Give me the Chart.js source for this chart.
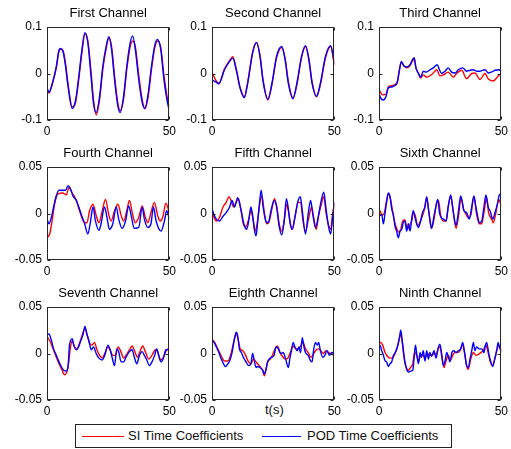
<!DOCTYPE html>
<html>
<head>
<meta charset="utf-8">
<script src="https://cdn.jsdelivr.net/npm/chart.js@4.4.1/dist/chart.umd.min.js"></script>
<style>
  body { margin: 0; background: #fff; }
  #wrap { position: relative; width: 511px; height: 449px; background: #fff; overflow: hidden;
          font-family: "Liberation Sans", Arial, sans-serif; color: #111; }
  #wrap canvas { position: absolute; }
  #tlabel { position: absolute; left: 265px; top: 402px; font-size: 13px; line-height: 15px; }
  #legend { position: absolute; left: 75px; top: 424px; width: 377px; height: 24px; box-sizing: border-box;
            border: 1px solid #222; font-size: 13px; }
  #legend .ln { position: absolute; top: 11px; height: 0; border-top: 1px solid; }
  #legend .tx { position: absolute; top: 3px; line-height: 16px; white-space: nowrap; }
</style>
</head>
<body>
<div id="wrap">
  <div id="tlabel">t(s)</div>
  <div id="legend">
    <span class="ln" style="left:6px;width:42px;border-color:#ff0000"></span>
    <span class="tx" style="left:52px">SI Time Coefficients</span>
    <span class="ln" style="left:186px;width:39px;border-color:#0000ff"></span>
    <span class="tx" style="left:231px">POD Time Coefficients</span>
  </div>
</div>
<script>
// ---- data (t in seconds) ----
const TITLES = ['First Channel', 'Second Channel', 'Third Channel', 'Fourth Channel', 'Fifth Channel',
  'Sixth Channel', 'Seventh Channel', 'Eighth Channel', 'Ninth Channel'];
const X_TICKS = [0, 50];
const Y_TICKS_BIG = [-0.1, 0, 0.1];
const Y_TICKS_SMALL = [-0.05, 0, 0.05];

// first channel
const ch1T = [0,0.8,2.4,3.8,4.8,5.4,6.5,7.5,8.6,10.3,11.7,13,14.3,15.5,16.7,18,19,20.1,21.5,22.8,24.2,25.3,26.4,27.6,28.9,29.9,31.3,32.6,34,35,36.1,37.5,38.9,40,41.3,42.7,44,45.1,46.5,47.8,49.7,50];
const ch1Pod = [-0.030,-0.040,-0.017,0.015,0.048,0.054,0.048,0.019,-0.028,-0.075,-0.057,-0.006,0.052,0.088,0.066,-0.006,-0.064,-0.084,-0.049,0.015,0.059,0.079,0.052,-0.013,-0.068,-0.084,-0.049,0.015,0.066,0.081,0.052,-0.013,-0.062,-0.075,-0.045,0.015,0.059,0.073,0.052,-0.013,-0.073,-0.075];
const ch1Si = [-0.035,-0.042,-0.018,0.012,0.045,0.052,0.050,0.024,-0.022,-0.072,-0.062,-0.012,0.046,0.086,0.070,0.004,-0.056,-0.089,-0.056,0.008,0.054,0.076,0.058,-0.004,-0.062,-0.080,-0.055,0.008,0.058,0.070,0.058,-0.004,-0.056,-0.076,-0.052,0.008,0.054,0.070,0.056,-0.004,-0.066,-0.070];

// second channel
const ch2PodT = [0,1.5,2.8,5.1,7.2,8.5,9.9,11.5,13.2,14.6,16.6,18.2,19.6,20.9,22.8,24.5,26.4,28.5,29.9,31.2,33.1,34.7,36.6,38.2,39.6,40.9,42.7,44.3,46.4,48.5,50];
const ch2Pod = [-0.014,-0.018,-0.022,0.008,0.026,0.033,0.008,-0.032,-0.052,-0.021,0.044,0.067,0.037,-0.018,-0.055,-0.021,0.037,0.058,0.029,-0.021,-0.054,-0.021,0.037,0.060,0.029,-0.021,-0.049,-0.021,0.037,0.060,0.022];
const ch2SiT = [0,0.6,1.5,2.8,5.1,7.2,8.5,9.9,11.5,13.2,14.6,16.6,18.2,19.6,20.9,22.8,24.5,26.4,28.5,29.9,31.2,33.1,34.7,36.6,38.2,39.6,40.9,42.7,44.3,46.4,48.5,50];
const ch2Si = [0.002,-0.004,-0.014,-0.021,0.010,0.028,0.036,0.010,-0.030,-0.050,-0.018,0.046,0.066,0.040,-0.014,-0.057,-0.024,0.034,0.056,0.032,-0.017,-0.052,-0.024,0.034,0.058,0.032,-0.017,-0.050,-0.024,0.034,0.058,0.018];

// third channel
const ch3PodT = [0,0.7,1.8,2.9,3.8,5.2,6.5,7.5,8.3,9.1,10.2,11.3,12.7,13.8,14.4,15.1,16.1,17,18.1,19.2,20.6,22.2,23.8,24.7,25.6,27,28.3,29.7,31.1,32.4,34.2,35.8,37.2,38.6,39.9,41.3,43.3,44.7,46,47.4,48.8,50];
const ch3Pod = [-0.042,-0.053,-0.057,-0.049,-0.031,-0.029,-0.026,-0.019,0.005,0.026,0.016,0.014,0.019,0.031,0.034,0.012,0.001,-0.008,0.005,0.003,0.007,0.012,0.019,0.008,0.000,0.005,0.012,0.003,0.001,0.008,0.012,0.005,0.007,0.008,0.005,0.005,0.008,0.001,0.003,0.007,0.008,0.005];
const ch3SiT = [0,1.5,2.9,3.8,5.2,6.5,7.5,8.3,9.1,10.2,11.3,12.7,13.8,14.4,15.1,16.1,17,18.1,19.5,22,23.6,24.9,26.3,28.3,30.4,31.7,33.8,35.8,37.9,39.2,41.3,43.3,44.7,46.7,48.8,50];
const ch3Si = [-0.035,-0.046,-0.044,-0.029,-0.026,-0.024,-0.017,0.007,0.024,0.016,0.012,0.017,0.028,0.030,0.012,0.000,-0.010,-0.003,-0.008,0.000,0.008,-0.005,-0.003,0.003,-0.008,0.000,0.007,-0.011,0.000,0.001,-0.013,0.000,-0.012,-0.016,-0.005,0.000];

// fourth channel
const ch4PodT = [0,0.8,1.8,2.7,3.8,4.9,6.5,7.6,8.6,9.5,10.6,12,13,14,15.4,16.7,17.7,18.8,19.8,21.2,22.1,23.5,24.5,25.5,26.9,28.3,29.3,30.7,32.1,33.4,34.4,35.7,37.5,38.9,39.8,41.2,42.5,43.5,44.6,46.6,48,48.9,50];
const ch4Pod = [-0.006,-0.011,-0.004,0.007,0.019,0.025,0.025,0.025,0.030,0.027,0.019,0.014,0.007,-0.001,-0.011,-0.022,-0.010,0.007,-0.008,-0.018,-0.011,0.007,-0.004,-0.017,-0.011,0.007,-0.006,-0.016,-0.008,0.008,-0.002,-0.016,-0.015,0.007,-0.006,-0.015,-0.011,0.007,-0.008,-0.019,-0.008,0.003,-0.006];
const ch4SiT = [0,1.1,2.2,3.1,4.5,6.5,7.9,9,10.3,12,13.3,15.4,16.3,17.4,18.8,20.1,21.2,22.6,23.9,25.3,26.2,27.6,29,30.3,31.3,32.6,33.7,35,36.1,37.5,38.9,40.2,41.2,42.5,43.9,45.2,46.2,47.3,48.6,50];
const ch4Si = [-0.026,-0.022,-0.006,0.010,0.021,0.022,0.020,0.028,0.022,0.014,0.003,-0.010,-0.010,0.003,0.010,-0.002,-0.010,0.003,0.015,-0.002,-0.008,0.003,0.010,-0.002,-0.008,0.003,0.014,-0.001,-0.010,-0.004,0.008,-0.004,-0.010,0.001,0.012,-0.002,-0.008,-0.004,0.011,0.001];

// fifth channel
const ch5PodT = [0,0.8,1.8,3.1,4.5,5.8,7.2,8.2,9.2,10.5,11.5,12.3,13.2,14.2,15,15.9,16.6,17.3,18,18.6,19.3,20.1,20.9,22,23,24.1,25.4,26.4,27.4,28.5,29.5,30.4,31.2,31.9,32.8,33.9,35,36.1,36.9,38.2,39.3,40.3,41.2,42.3,43.4,44.5,45.7,46.6,47.7,48.5,49.3,50];
const ch5Pod = [0.005,-0.001,-0.006,-0.008,-0.003,0.001,0.007,0.014,0.007,0.017,0.008,-0.002,-0.013,-0.017,-0.008,0.007,-0.002,-0.017,-0.024,-0.011,0.008,0.025,0.007,-0.008,-0.010,0.003,0.014,0.007,-0.013,-0.023,-0.008,0.016,0.005,-0.010,-0.017,-0.004,0.012,0.018,0.003,-0.022,-0.001,0.014,-0.001,-0.015,-0.004,0.012,0.023,0.005,-0.015,-0.022,-0.004,0.012];
const ch5SiT = [0,1.1,2,3.1,4.5,5.8,6.9,7.8,8.8,9.9,10.8,11.9,12.8,13.9,15,15.9,16.9,17.7,18.6,19.6,20.4,21.4,22.3,23.4,24.5,25.5,26.5,27.4,28.5,29.6,30.5,31.2,32.2,32.8,33.9,35.3,36.2,37.2,38.2,39.6,40.7,41.8,42.6,43.6,44.7,45.7,46.6,47.7,48.5,49.3,50];
const ch5Si = [0.003,-0.006,-0.008,-0.004,0.007,0.012,0.018,0.014,0.007,0.012,0.016,0.003,-0.011,-0.014,-0.006,0.003,-0.008,-0.019,-0.008,0.012,0.019,0.001,-0.011,-0.008,0.005,0.016,0.007,-0.010,-0.019,-0.006,0.010,0.003,-0.013,-0.017,-0.004,0.012,0.012,-0.008,-0.019,-0.004,0.007,-0.008,-0.017,-0.002,0.010,0.018,0.001,-0.013,-0.017,-0.001,0.010];

// sixth channel
const ch6PodT = [0,0.4,1.1,1.8,2.5,3.1,3.8,4.5,5.2,5.9,6.5,7.2,7.9,8.6,9.3,9.9,10.6,11.3,12,12.7,13.4,14,14.7,15.4,16.1,17,17.8,18.8,19.5,20.2,20.8,21.5,22.5,23.3,24,24.7,25.3,26.3,27.4,28.3,29.3,30.1,30.8,31.5,32.4,33.4,34.2,34.7,35.8,36.9,37.9,38.8,39.6,40.2,41,42,42.9,43.7,44.6,45.4,46.5,47.4,48.4,49.2,50];
const ch6Pod = [0.001,-0.002,-0.001,-0.011,0.001,0.012,0.022,0.018,0.005,-0.002,-0.013,-0.019,-0.026,-0.019,-0.017,-0.010,-0.008,-0.019,-0.011,-0.019,-0.005,0.003,-0.004,-0.011,-0.015,-0.008,0.001,0.007,0.018,0.005,-0.006,-0.016,-0.002,0.008,0.015,0.001,-0.004,-0.006,-0.008,0.007,0.020,0.007,-0.006,-0.013,0.001,0.019,0.010,0.003,0.001,-0.006,0.007,0.019,0.007,-0.001,-0.010,-0.008,0.007,0.020,0.007,0.003,-0.006,0.001,0.010,0.020,0.021];
const ch6SiT = [0,0.7,1.4,2.2,3.1,3.8,4.5,5.4,6.3,7.2,8,8.9,9.7,10.6,11.6,12.4,13.4,14,14.9,15.7,16.5,17.4,18.4,19.5,20.4,21.4,22.5,23.6,24.3,25.2,26.3,27.4,28.3,29.3,30.4,31.5,32.6,33.5,34.5,35.6,36.6,37.6,38.8,39.9,41,42,42.9,44,44.8,46,46.7,47.8,48.9,50];
const ch6Si = [0.005,0.001,-0.002,0.001,0.014,0.021,0.018,0.005,-0.008,-0.016,-0.020,-0.017,-0.008,-0.007,-0.017,-0.013,-0.008,0.001,-0.003,-0.013,-0.011,-0.005,0.003,0.017,0.001,-0.016,-0.006,0.012,0.014,-0.002,-0.008,-0.008,0.008,0.018,0.001,-0.016,-0.001,0.017,0.005,-0.001,-0.005,-0.001,0.018,-0.001,-0.011,-0.011,0.001,0.017,0.001,-0.006,-0.010,0.001,0.015,0.008];

// seventh channel
const ch7PodT = [0,0.8,1.8,2.7,3.8,4.9,5.8,6.8,7.9,8.6,9.2,10.3,10.9,12,12.9,13.7,14.7,15.5,16.3,17.1,18.1,19,20.1,21.2,22.6,23.6,24.9,25.8,26.6,27.6,28.5,29.3,30.3,31.3,32.3,33.7,34.8,35.7,36.7,37.8,38.9,39.8,40.8,41.8,42.9,44,44.8,45.7,46.6,47.6,48.6,50];
const ch7Pod = [0.020,0.021,0.014,0.005,-0.002,-0.009,-0.014,-0.018,-0.019,-0.014,0.009,0.016,0.009,0.004,0.007,0.013,0.020,0.029,0.021,0.014,0.004,0.007,0.000,-0.005,-0.007,-0.002,0.009,0.004,-0.004,-0.013,0.005,0.002,-0.009,-0.009,-0.004,0.002,0.004,-0.004,-0.011,-0.002,0.002,-0.002,-0.007,-0.013,-0.009,-0.002,0.005,-0.002,-0.009,-0.005,0.004,0.004];
const ch7SiT = [0,1.1,2.2,3.5,4.9,6,7.2,7.9,8.7,9.5,10.3,11.3,12.2,13.3,14.4,15.5,16.4,17.4,18.5,19.4,20.4,21.5,22.6,23.6,24.9,25.8,26.9,28,29.1,30.2,31.3,32.3,33.7,34.8,35.9,37,38,39.1,40.2,41.6,42.9,44.3,45.2,46.3,47.3,48.4,49.3,50];
const ch7Si = [0.018,0.014,0.007,-0.002,-0.011,-0.017,-0.023,-0.021,-0.013,0.005,0.014,0.007,0.005,0.011,0.020,0.027,0.020,0.011,0.009,0.012,0.004,-0.002,-0.005,0.000,0.007,0.004,-0.002,-0.002,0.007,0.002,-0.005,-0.002,0.004,0.008,0.002,-0.004,0.002,0.008,0.002,-0.006,-0.002,0.004,0.002,-0.007,-0.005,0.001,0.005,0.005];

// eighth channel
const ch8PodT = [0,0.8,1.8,2.8,3.8,4.7,5.5,6.5,7.2,8.2,9.2,9.9,10.5,11.2,12,12.8,13.9,15,15.9,16.6,17.3,18,18.6,19.6,20.7,21.4,22,22.7,23.4,24.5,25.4,26.1,27.2,28.1,29.1,30.1,31.2,31.8,32.6,33.2,33.9,34.9,35.5,36.2,36.9,37.6,38.2,39.3,40.3,40.9,41.6,42.3,43,43.6,44.3,45.3,46.1,47,48,49,50];
const ch8Pod = [0.014,0.012,0.007,0.001,-0.006,-0.011,-0.014,-0.011,-0.008,0.001,0.016,0.023,0.019,0.005,0.001,-0.004,-0.009,-0.013,-0.011,0.000,-0.008,-0.015,-0.014,-0.015,-0.018,-0.022,-0.018,-0.009,-0.006,-0.004,-0.002,0.007,0.005,0.000,0.001,-0.006,-0.015,-0.006,0.005,0.012,0.007,0.003,0.007,0.001,0.017,0.007,0.001,-0.002,-0.008,-0.009,0.005,0.012,0.009,0.012,0.003,-0.004,-0.002,0.003,-0.002,0.001,-0.001];
const ch8SiT = [0,1.1,2,3.1,4.2,5.1,6.5,7.8,8.9,9.9,10.7,11.5,12.6,13.6,14.7,15.9,16.9,17.7,18.6,19.6,20.7,21.4,22,22.8,23.8,24.7,25.8,26.8,27.7,28.8,29.9,31,32,33.1,34.2,35.3,36.4,37.2,38.2,39.3,40.4,41.4,42.3,43.4,44.5,45.5,46.6,47.7,49,50];
const ch8Si = [0.015,0.012,0.007,0.001,-0.005,-0.008,-0.008,0.000,0.013,0.021,0.015,0.005,0.003,-0.001,-0.008,-0.011,-0.006,-0.008,-0.011,-0.014,-0.018,-0.024,-0.018,-0.009,-0.006,-0.002,0.005,0.008,0.001,-0.003,-0.006,-0.005,0.001,0.008,0.005,0.005,0.009,0.012,0.005,0.001,-0.004,-0.001,0.003,0.005,0.003,0.000,0.003,0.001,-0.001,-0.002];

// ninth channel
const ch9PodT = [0,0.4,1.1,1.8,2.5,3.1,3.8,4.5,5.2,5.9,6.5,7.5,8.3,8.9,9.4,9.9,10.6,11.3,12,12.9,13.8,14.3,14.9,15.4,16.1,16.8,17.4,18.1,18.8,19.5,20.2,20.8,21.5,22.5,23.3,24.3,24.9,25.6,26.3,27,27.7,28.3,29,29.8,30.6,31.5,32.4,33.4,34.2,35,35.8,36.5,37.2,37.9,38.6,39.2,39.9,41,42,42.9,43.5,44,44.8,45.6,46.5,47.3,48.1,48.7,49.2,50];
const ch9Pod = [0.007,0.009,0.003,-0.002,-0.008,-0.009,-0.014,-0.011,-0.009,-0.002,0.000,0.007,0.016,0.025,0.016,0.005,-0.009,-0.017,-0.020,-0.019,-0.018,-0.006,0.009,0.000,-0.011,0.001,-0.004,0.003,-0.008,0.003,-0.006,0.001,-0.003,0.003,-0.005,0.007,0.010,0.000,-0.013,-0.008,0.001,-0.003,-0.009,0.001,0.003,0.001,0.003,0.005,0.012,0.001,-0.013,-0.015,-0.006,0.003,0.012,0.003,0.007,0.005,0.005,0.001,0.009,0.012,0.001,-0.008,-0.014,-0.006,0.003,0.012,0.007,0.003];
const ch9SiT = [0,0.7,1.5,2.5,3.4,4.5,5.6,6.5,7.5,8.3,8.9,9.5,10.2,11,12,12.9,13.8,14.6,15.4,16.2,17,17.8,18.8,19.8,20.6,21.5,22.5,23.3,24.1,24.9,25.7,26.6,27.4,28.3,29.3,30.1,31.1,32,33.1,34.1,35,35.8,36.5,37.5,38.6,39.6,40.6,41.6,42.6,43.7,44.6,45.4,46.3,47.3,48.1,48.9,50];
const ch9Si = [0.010,0.012,0.009,0.001,-0.003,-0.005,-0.005,0.000,0.007,0.016,0.021,0.012,-0.004,-0.014,-0.018,-0.015,-0.011,0.001,-0.002,-0.008,-0.002,-0.001,-0.005,0.000,-0.002,-0.002,0.000,-0.002,0.005,0.007,-0.004,-0.015,-0.008,-0.002,-0.007,-0.002,0.001,0.001,0.003,0.009,0.000,-0.013,-0.017,-0.006,0.001,-0.002,-0.001,0.001,0.003,0.009,0.001,-0.008,-0.013,-0.006,0.003,0.009,0.001];

const panels = [
  [ch1T, ch1Pod, ch1T, ch1Si],
  [ch2PodT, ch2Pod, ch2SiT, ch2Si],
  [ch3PodT, ch3Pod, ch3SiT, ch3Si],
  [ch4PodT, ch4Pod, ch4SiT, ch4Si],
  [ch5PodT, ch5Pod, ch5SiT, ch5Si],
  [ch6PodT, ch6Pod, ch6SiT, ch6Si],
  [ch7PodT, ch7Pod, ch7SiT, ch7Si],
  [ch8PodT, ch8Pod, ch8SiT, ch8Si],
  [ch9PodT, ch9Pod, ch9SiT, ch9Si]
];

// ---- layout ----
const PLOT_LEFT = [47, 212, 379];
const PLOT_TOP = [27, 167, 307];
const PLOT_W = 123, PLOT_H = 93;
const AXIS_W = 47, TITLE_H = 26, XAXIS_H = 25, PAD_R = 10;
const FONT = '"Liberation Sans", Arial, sans-serif';

// box round the plot + small inward tick marks (matlab style)
const boxPlugin = {
  id: 'box',
  afterDraw(chart) {
    const { ctx, chartArea: a, scales: { x, y } } = chart;
    const l = Math.round(a.left) + 0.5, t = Math.round(a.top) + 0.5;
    const r = Math.round(a.right) - 0.5, b = Math.round(a.bottom) - 0.5;
    ctx.save();
    ctx.strokeStyle = '#262626';
    ctx.lineWidth = 1;
    ctx.strokeRect(l, t, r - l, b - t);
    ctx.beginPath();
    x.ticks.forEach(tk => {
      const px = Math.round(x.getPixelForValue(tk.value)) + 0.5;
      ctx.moveTo(px, b); ctx.lineTo(px, b - 3);
      ctx.moveTo(px, t); ctx.lineTo(px, t + 3);
    });
    y.ticks.forEach(tk => {
      const py = Math.round(y.getPixelForValue(tk.value)) + 0.5;
      ctx.moveTo(l, py); ctx.lineTo(l + 3, py);
      ctx.moveTo(r, py); ctx.lineTo(r - 3, py);
    });
    ctx.stroke();
    ctx.restore();
  }
};

function toPoints(ts, vs) {
  return ts.map((t, i) => ({ x: t, y: vs[i] }));
}

const wrap = document.getElementById('wrap');

panels.forEach((p, i) => {
  const col = i % 3, row = Math.floor(i / 3);
  const yTicks = row === 0 ? Y_TICKS_BIG : Y_TICKS_SMALL;
  const lim = yTicks[2];

  const cv = document.createElement('canvas');
  cv.width = AXIS_W + PLOT_W + PAD_R;
  cv.height = TITLE_H + PLOT_H + XAXIS_H;
  cv.style.left = (PLOT_LEFT[col] - AXIS_W) + 'px';
  cv.style.top = (PLOT_TOP[row] - TITLE_H) + 'px';
  wrap.appendChild(cv);

  new Chart(cv, {
    type: 'line',
    data: {
      datasets: [
        {
          label: 'POD Time Coefficients',
          data: toPoints(p[0], p[1]),
          borderColor: '#0000ff',
          borderWidth: 1.4,
          order: 0
        },
        {
          label: 'SI Time Coefficients',
          data: toPoints(p[2], p[3]),
          borderColor: '#ff0000',
          borderWidth: 1.4,
          order: 1
        }
      ]
    },
    options: {
      responsive: false,
      animation: false,
      events: [],
      layout: { padding: { left: 0, right: PAD_R, top: 0, bottom: 0 } },
      elements: { point: { radius: 0 }, line: { cubicInterpolationMode: 'monotone' } },
      plugins: {
        legend: { display: false },
        tooltip: { enabled: false },
        title: {
          display: true,
          text: TITLES[i],
          fullSize: false,
          color: '#000',
          font: { family: FONT, size: 13, weight: 'normal', lineHeight: '15px' },
          padding: { top: 5, bottom: 6 }
        }
      },
      scales: {
        x: {
          type: 'linear',
          min: 0,
          max: 50,
          afterBuildTicks: s => { s.ticks = X_TICKS.map(v => ({ value: v })); },
          afterFit: s => { s.height = XAXIS_H; },
          grid: { display: false, drawTicks: false },
          border: { display: false },
          ticks: { padding: 4, color: '#000', autoSkip: false, maxRotation: 0,
                   font: { family: FONT, size: 12 } }
        },
        y: {
          type: 'linear',
          min: -lim,
          max: lim,
          afterBuildTicks: s => { s.ticks = yTicks.map(v => ({ value: v })); },
          afterFit: s => { s.width = AXIS_W; },
          grid: { display: false, drawTicks: false },
          border: { display: false },
          ticks: { padding: 5, color: '#000', font: { family: FONT, size: 12 },
                   callback: v => String(v) }
        }
      }
    },
    plugins: [boxPlugin]
  });
});
</script>
</body>
</html>
